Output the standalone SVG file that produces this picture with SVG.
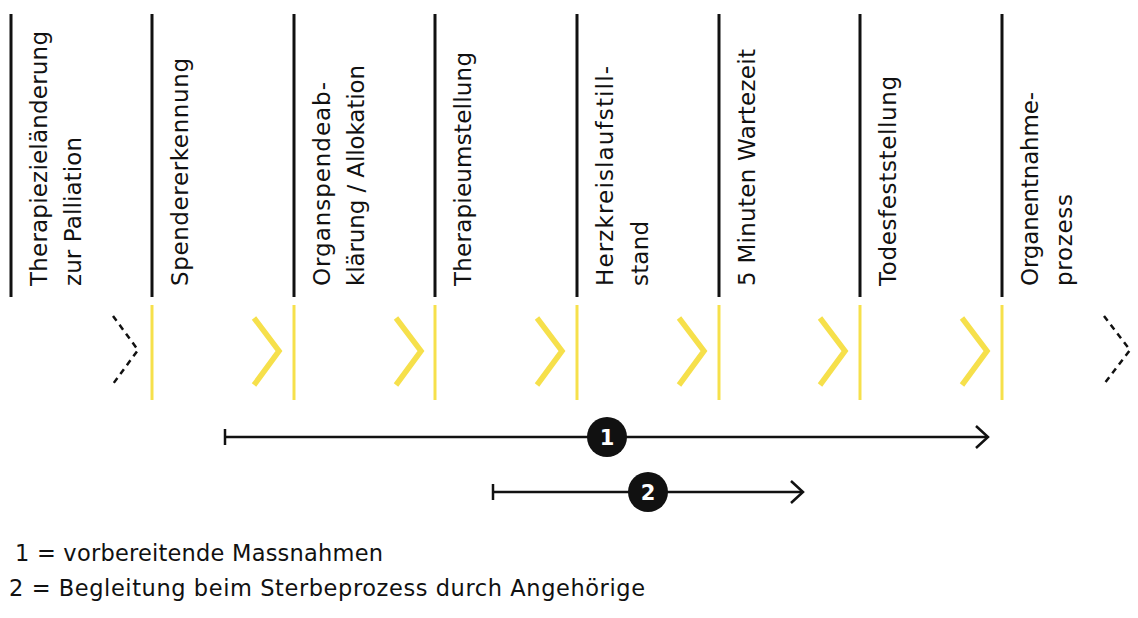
<svg xmlns="http://www.w3.org/2000/svg" width="1138" height="618" viewBox="0 0 1138 618">
<defs>
<style>
.lbl{font-family:"DejaVu Sans","Liberation Sans",sans-serif;font-size:23px;fill:#111}
.leg{font-family:"DejaVu Sans","Liberation Sans",sans-serif;font-size:22.5px;fill:#111}
.num{font-family:"DejaVu Sans","Liberation Sans",sans-serif;font-size:21px;font-weight:bold;fill:#fff;text-anchor:middle}
.bl{stroke:#111;stroke-width:3}
.yl{stroke:#f6e04b;stroke-width:3}
.ych{fill:none;stroke:#f6e04b;stroke-width:5.5}
.dch{fill:none;stroke:#111;stroke-width:2.5;stroke-dasharray:6 5}
.ln{stroke:#111;stroke-width:2.5;fill:none}
</style>
</defs>
<rect width="1138" height="618" fill="#fff"/>

<g id="col1">
<line class="bl" x1="11" y1="14" x2="11" y2="297"/>
<text class="lbl" transform="translate(47,286) rotate(-90)" textLength="255">Therapiezieländerung</text>
<text class="lbl" transform="translate(81,286) rotate(-90)" textLength="149">zur Palliation</text>
</g>
<g id="col2">
<line class="bl" x1="152" y1="14" x2="152" y2="297"/>
<line class="yl" x1="152" y1="305" x2="152" y2="400"/>
<text class="lbl" transform="translate(188,286) rotate(-90)" textLength="228">Spendererkennung</text>
</g>
<g id="col3">
<line class="bl" x1="294" y1="14" x2="294" y2="297"/>
<line class="yl" x1="294" y1="305" x2="294" y2="400"/>
<text class="lbl" transform="translate(330,286) rotate(-90)" textLength="204">Organspendeab-</text>
<text class="lbl" transform="translate(364,286) rotate(-90)" textLength="221">klärung / Allokation</text>
</g>
<g id="col4">
<line class="bl" x1="435" y1="14" x2="435" y2="297"/>
<line class="yl" x1="435" y1="305" x2="435" y2="400"/>
<text class="lbl" transform="translate(471,286) rotate(-90)" textLength="234">Therapieumstellung</text>
</g>
<g id="col5">
<line class="bl" x1="577" y1="14" x2="577" y2="297"/>
<line class="yl" x1="577" y1="305" x2="577" y2="400"/>
<text class="lbl" transform="translate(613,286) rotate(-90)" textLength="220">Herzkreislaufstill-</text>
<text class="lbl" transform="translate(648,286) rotate(-90)" textLength="65">stand</text>
</g>
<g id="col6">
<line class="bl" x1="719" y1="14" x2="719" y2="297"/>
<line class="yl" x1="719" y1="305" x2="719" y2="400"/>
<text class="lbl" transform="translate(755,286) rotate(-90)" textLength="237">5 Minuten Wartezeit</text>
</g>
<g id="col7">
<line class="bl" x1="860" y1="14" x2="860" y2="297"/>
<line class="yl" x1="860" y1="305" x2="860" y2="400"/>
<text class="lbl" transform="translate(896,286) rotate(-90)" textLength="210">Todesfeststellung</text>
</g>
<g id="col8">
<line class="bl" x1="1002" y1="14" x2="1002" y2="297"/>
<line class="yl" x1="1002" y1="305" x2="1002" y2="400"/>
<text class="lbl" transform="translate(1038,286) rotate(-90)" textLength="194">Organentnahme-</text>
<text class="lbl" transform="translate(1072,286) rotate(-90)" textLength="92">prozess</text>
</g>

<g id="chevrons">
<polyline class="dch" points="113,316 138,350 113,384"/>
<polyline class="ych" points="254,318 279,351 254,385"/>
<polyline class="ych" points="396,318 421,351 396,385"/>
<polyline class="ych" points="537,318 562,351 537,385"/>
<polyline class="ych" points="679,318 704,351 679,385"/>
<polyline class="ych" points="820,318 845,351 820,385"/>
<polyline class="ych" points="962,318 987,351 962,385"/>
<polyline class="dch" points="1104,316 1130,350 1104,384"/>
</g>

<g id="connectors">
<line class="ln" x1="225" y1="437" x2="987" y2="437"/>
<line class="ln" x1="225" y1="429" x2="225" y2="445" stroke-width="3"/>
<polyline class="ln" points="976,426 988,437 976,448"/>
<line class="ln" x1="493" y1="492" x2="802" y2="492"/>
<line class="ln" x1="493" y1="484" x2="493" y2="500" stroke-width="3"/>
<polyline class="ln" points="791,481 803,492 791,503"/>
</g>

<g id="marker1">
<circle cx="607" cy="437" r="20" fill="#111"/>
<text class="num" x="607" y="445">1</text>
</g>
<g id="marker2">
<circle cx="648" cy="492" r="20" fill="#111"/>
<text class="num" x="648" y="500">2</text>
</g>

<g id="legend">
<text class="leg" x="15" y="561" textLength="368">1 = vorbereitende Massnahmen</text>
<text class="leg" x="9" y="596" textLength="636">2 = Begleitung beim Sterbeprozess durch Angehörige</text>
</g>
</svg>
